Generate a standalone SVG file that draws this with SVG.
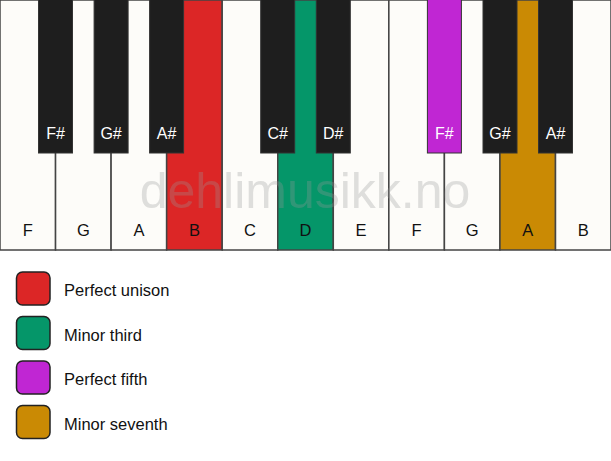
<svg xmlns="http://www.w3.org/2000/svg" width="611" height="461" viewBox="0 0 611 461">
<style>
.w{fill:#fdfcf9;stroke:#444;stroke-width:1.5}
.b{fill:#1e1e1e;stroke:#333;stroke-width:1}
.wl{font-family:"Liberation Sans",Arial,sans-serif;font-size:16.5px;fill:#111;text-anchor:middle}
.bl{font-family:"Liberation Sans",Arial,sans-serif;font-size:16px;fill:#fff;text-anchor:middle}
.lg{stroke:#222;stroke-width:1.5}
.lt{font-family:"Liberation Sans",Arial,sans-serif;font-size:16.5px;fill:#111}
.wm{font-family:"Liberation Sans",Arial,sans-serif;font-size:50px;fill:#999;fill-opacity:0.3;text-anchor:middle}
</style>
<rect width="611" height="461" fill="#fff"/>
<g id="white-keys">
<g id="w-F1"><rect class="w" x="0" y="0" width="55.55" height="250"/><text class="wl" x="27.8" y="236">F</text></g>
<g id="w-G1"><rect class="w" x="55.55" y="0" width="55.55" height="250"/><text class="wl" x="83.3" y="236">G</text></g>
<g id="w-A1"><rect class="w" x="111.1" y="0" width="55.55" height="250"/><text class="wl" x="138.9" y="236">A</text></g>
<g id="w-B1"><rect class="w" x="166.65" y="0" width="55.55" height="250" style="fill:#dc2626"/><text class="wl" x="194.4" y="236">B</text></g>
<g id="w-C"><rect class="w" x="222.2" y="0" width="55.55" height="250"/><text class="wl" x="250" y="236">C</text></g>
<g id="w-D"><rect class="w" x="277.75" y="0" width="55.55" height="250" style="fill:#059669"/><text class="wl" x="305.5" y="236">D</text></g>
<g id="w-E"><rect class="w" x="333.3" y="0" width="55.55" height="250"/><text class="wl" x="361.1" y="236">E</text></g>
<g id="w-F2"><rect class="w" x="388.85" y="0" width="55.55" height="250"/><text class="wl" x="416.6" y="236">F</text></g>
<g id="w-G2"><rect class="w" x="444.4" y="0" width="55.55" height="250"/><text class="wl" x="472.2" y="236">G</text></g>
<g id="w-A2"><rect class="w" x="499.95" y="0" width="55.55" height="250" style="fill:#ca8a04"/><text class="wl" x="527.7" y="236">A</text></g>
<g id="w-B2"><rect class="w" x="555.5" y="0" width="55.5" height="250"/><text class="wl" x="583.2" y="236">B</text></g>
</g>
<g id="black-keys">
<g id="b-Fs1"><rect class="b" x="38.5" y="-1" width="34" height="154"/><text class="bl" x="55.5" y="139">F#</text></g>
<g id="b-Gs1"><rect class="b" x="94.1" y="-1" width="34" height="154"/><text class="bl" x="111.1" y="139">G#</text></g>
<g id="b-As1"><rect class="b" x="149.6" y="-1" width="34" height="154"/><text class="bl" x="166.6" y="139">A#</text></g>
<g id="b-Cs"><rect class="b" x="260.7" y="-1" width="34" height="154"/><text class="bl" x="277.7" y="139">C#</text></g>
<g id="b-Ds"><rect class="b" x="316.3" y="-1" width="34" height="154"/><text class="bl" x="333.3" y="139">D#</text></g>
<g id="b-Fs2"><rect class="b" x="427.4" y="-1" width="34" height="154" style="fill:#c026d3"/><text class="bl" x="444.4" y="139">F#</text></g>
<g id="b-Gs2"><rect class="b" x="483" y="-1" width="34" height="154"/><text class="bl" x="500" y="139">G#</text></g>
<g id="b-As2"><rect class="b" x="538.5" y="-1" width="34" height="154"/><text class="bl" x="555.5" y="139">A#</text></g>
</g>
<text class="wm" x="305" y="208">dehlimusikk.no</text>
<g id="legend">
<g id="lg-unison"><rect class="lg" x="16.5" y="272" width="33.5" height="33" rx="6" fill="#dc2626"/><text class="lt" x="64" y="296">Perfect unison</text></g>
<g id="lg-third"><rect class="lg" x="16.5" y="316.5" width="33.5" height="33" rx="6" fill="#059669"/><text class="lt" x="64" y="340.5">Minor third</text></g>
<g id="lg-fifth"><rect class="lg" x="16.5" y="361" width="33.5" height="33" rx="6" fill="#c026d3"/><text class="lt" x="64" y="385">Perfect fifth</text></g>
<g id="lg-seventh"><rect class="lg" x="16.5" y="405.5" width="33.5" height="33" rx="6" fill="#ca8a04"/><text class="lt" x="64" y="429.5">Minor seventh</text></g>
</g>
</svg>
